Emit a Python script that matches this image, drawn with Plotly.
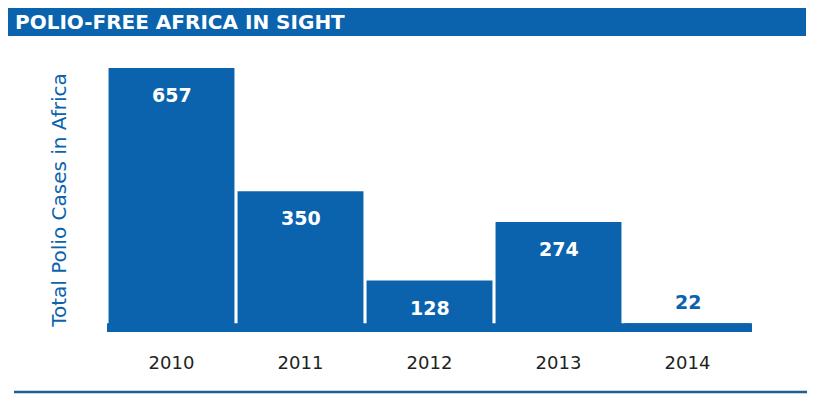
import plotly.graph_objects as go

years = ["2010", "2011", "2012", "2013", "2014"]
cases = [657, 350, 128, 274, 22]
title_text = "POLIO-FREE AFRICA IN SIGHT"
y_title = "Total Polio Cases in Africa"

BLUE = "#0b63ae"
LINE_BLUE = "#1f5f95"
FONT = "DejaVu Sans"

idx = list(range(len(years)))

fig = go.Figure()
fig.add_trace(go.Bar(
    x=idx, y=cases,
    marker=dict(color=BLUE, line=dict(width=0)),
    hovertext=years, hoverinfo="text+y",
))

# value labels: white inside tall bars, blue above the short one
threshold = 50
for i, v in zip(idx, cases):
    inside = v > threshold
    fig.add_annotation(
        x=i, y=v, xref="x", yref="y",
        text=f"<b>{v}</b>",
        showarrow=False,
        yshift=-27 if inside else 21,
        font=dict(family=FONT, size=19, color="white" if inside else BLUE),
    )

# continuous base band (gaps between bars stop at smallest bar height)
fig.add_shape(type="rect", xref="x", yref="y",
              x0=idx[0] - 0.5, x1=idx[-1] + 0.5, y0=0, y1=min(cases),
              fillcolor=BLUE, line=dict(width=0), layer="above")

# page has an 8px body margin, so figure origin is at (8, 8) of the window
OFF = 8
W, H = 808, 392
L = 107 - OFF
T = 68 - OFF
R = W - (752 - OFF)
B = H - (332 - OFF)
pw, ph = W - L - R, H - T - B
def px(xp):
    return (xp - OFF - L) / pw
def py(yp):
    return (H - B - (yp - OFF)) / ph

# title bar
fig.add_shape(type="rect", xref="paper", yref="paper",
              x0=px(8), x1=px(806), y0=py(36), y1=py(8),
              fillcolor=BLUE, line=dict(width=0))
fig.add_annotation(xref="paper", yref="paper", x=px(13), y=py(22),
                   xanchor="left", yanchor="middle", showarrow=False,
                   text=f"<b>{title_text}</b>",
                   font=dict(family=FONT, size=20, color="white"))
# bottom rule
fig.add_shape(type="line", xref="paper", yref="paper",
              x0=px(14), x1=px(807), y0=py(392), y1=py(392),
              line=dict(color=LINE_BLUE, width=2.5))

fig.update_layout(
    width=W, height=H,
    margin=dict(l=L, r=R, t=T, b=B),
    paper_bgcolor="white", plot_bgcolor="white",
    bargap=0.024,
    showlegend=False,
    xaxis=dict(type="linear", range=[idx[0] - 0.5, idx[-1] + 0.5],
               tickmode="array", tickvals=idx, ticktext=years,
               showgrid=False, zeroline=False, showline=False, ticks="",
               tickfont=dict(family=FONT, size=18, color="#231f20"),
               ticklabelstandoff=18),
    yaxis=dict(range=[0, 657], showgrid=False, zeroline=False, showline=False,
               showticklabels=False, ticks="",
               title=dict(text=y_title, standoff=34,
                          font=dict(family=FONT, size=20, color=BLUE))),
)

fig.write_html("out.html")
